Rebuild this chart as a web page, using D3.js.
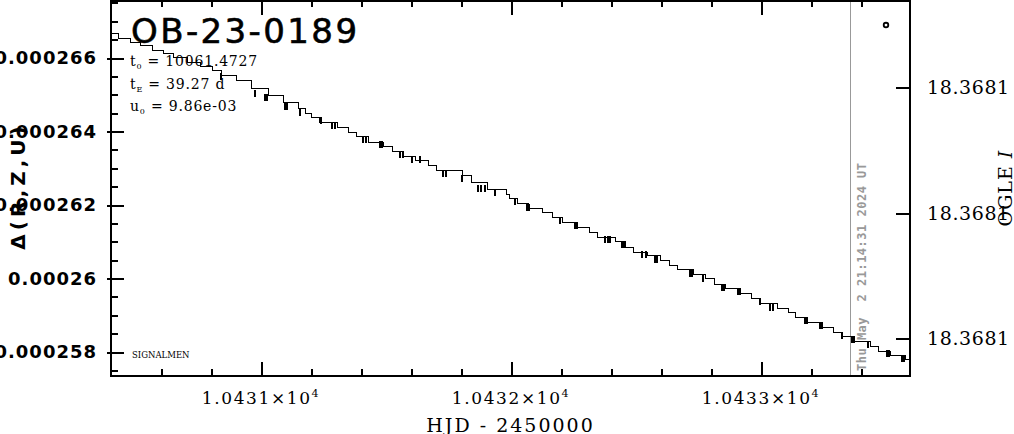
<!DOCTYPE html>
<html>
<head>
<meta charset="utf-8">
<script src="https://cdn.jsdelivr.net/npm/d3@7"></script>
<style>
  html, body { margin: 0; padding: 0; background: #fff; }
  svg { display: block; }
</style>
</head>
<body>
<svg id="chart" width="1014" height="434"></svg>
<script>
// ---------------- data ----------------
const title = "OB-23-0189";
const params = [
  { sym: "t", sub: "0", text: " = 10061.4727" },
  { sym: "t", sub: "E", text: " = 39.27 d" },
  { sym: "u", sub: "0", text: " = 9.86e-03" }
];
const xLabel = "HJD - 2450000";
const yLabel = "Δ(R,Z,U)";
const yRightLabel = "OGLE ";
const yRightLabelItalic = "I";
const dateText = "Thu May  2 21:14:31 2024 UT";
const dateHjd = 10433.357;
const footText = "SIGNALMEN";

const xDomain = [10430.4, 10433.596];
const yDomain = [0.00025735, 0.00026758];
const yRightDomain = [18.368046, 18.368106];

const xMajorTicks = [10431, 10432, 10433];
const xTickMantissa = ["1.0431", "1.0432", "1.0433"];
const xTickExponent = "4";
const yMajorTicks = [0.000258, 0.00026, 0.000262, 0.000264, 0.000266];
const yTickLabels = ["0.000258", "0.00026", "0.000262", "0.000264", "0.000266"];
const yRightTicks = [18.36806, 18.36808, 18.3681];
const yRightTickLabels = ["18.3681", "18.3681", "18.3681"];

// model light curve (stepped)
const stepHjd = [
  10430.400, 10430.428, 10430.476, 10430.516, 10430.564, 10430.608, 10430.648, 10430.704,
  10430.756, 10430.804, 10430.840, 10430.900, 10430.960, 10431.028, 10431.088, 10431.148,
  10431.176, 10431.200, 10431.232, 10431.304, 10431.348, 10431.380, 10431.428, 10431.488,
  10431.524, 10431.564, 10431.616, 10431.668, 10431.700, 10431.804, 10431.840, 10431.904,
  10431.980, 10431.992, 10432.024, 10432.068, 10432.124, 10432.164, 10432.204, 10432.264,
  10432.312, 10432.344, 10432.416, 10432.456, 10432.488, 10432.544, 10432.596, 10432.632,
  10432.664, 10432.728, 10432.776, 10432.812, 10432.856, 10432.916, 10432.960, 10432.996,
  10433.064, 10433.108, 10433.136, 10433.180, 10433.244, 10433.288, 10433.324, 10433.364,
  10433.436, 10433.468, 10433.516, 10433.576, 10433.596
];
const stepDelta = [
  2.66680e-4, 2.66544e-4, 2.66435e-4, 2.66354e-4, 2.66218e-4, 2.66136e-4, 2.66027e-4, 2.65891e-4,
  2.65782e-4, 2.65673e-4, 2.65537e-4, 2.65401e-4, 2.65184e-4, 2.64993e-4, 2.64803e-4, 2.64639e-4,
  2.64503e-4, 2.64395e-4, 2.64258e-4, 2.64122e-4, 2.63986e-4, 2.63878e-4, 2.63714e-4, 2.63605e-4,
  2.63469e-4, 2.63333e-4, 2.63224e-4, 2.63088e-4, 2.62952e-4, 2.62816e-4, 2.62626e-4, 2.62435e-4,
  2.62299e-4, 2.62190e-4, 2.62054e-4, 2.61918e-4, 2.61810e-4, 2.61673e-4, 2.61537e-4, 2.61401e-4,
  2.61265e-4, 2.61129e-4, 2.61020e-4, 2.60857e-4, 2.60721e-4, 2.60639e-4, 2.60503e-4, 2.60367e-4,
  2.60259e-4, 2.60122e-4, 2.60014e-4, 2.59850e-4, 2.59741e-4, 2.59605e-4, 2.59469e-4, 2.59333e-4,
  2.59197e-4, 2.59088e-4, 2.58952e-4, 2.58816e-4, 2.58680e-4, 2.58544e-4, 2.58435e-4, 2.58299e-4,
  2.58163e-4, 2.58027e-4, 2.57918e-4, 2.57810e-4, 2.57810e-4
];

// observations (short vertical marks)
const obsHjd = [
  10430.840, 10430.976, 10431.016, 10431.024, 10431.096, 10431.104, 10431.156, 10431.240,
  10431.284, 10431.296, 10431.408, 10431.420, 10431.476, 10431.484, 10431.556, 10431.568,
  10431.604, 10431.636, 10431.728, 10431.740, 10431.804, 10431.868, 10431.880, 10431.896,
  10431.936, 10432.016, 10432.064, 10432.072, 10432.196, 10432.256, 10432.264, 10432.376,
  10432.388, 10432.396, 10432.444, 10432.452, 10432.524, 10432.540, 10432.576, 10432.584,
  10432.716, 10432.724, 10432.768, 10432.844, 10432.852, 10432.908, 10432.916, 10432.996,
  10433.036, 10433.048, 10433.176, 10433.184, 10433.236, 10433.244, 10433.324, 10433.364,
  10433.372, 10433.428, 10433.504, 10433.512, 10433.564, 10433.572
];
const obsDelta = [
  2.65537e-4, 2.65075e-4, 2.64966e-4, 2.64966e-4, 2.64721e-4, 2.64721e-4, 2.64558e-4, 2.64340e-4,
  2.64204e-4, 2.64204e-4, 2.63823e-4, 2.63823e-4, 2.63687e-4, 2.63687e-4, 2.63415e-4, 2.63415e-4,
  2.63279e-4, 2.63279e-4, 2.62898e-4, 2.62898e-4, 2.62762e-4, 2.62490e-4, 2.62490e-4, 2.62490e-4,
  2.62381e-4, 2.62136e-4, 2.61973e-4, 2.61973e-4, 2.61619e-4, 2.61483e-4, 2.61483e-4, 2.61102e-4,
  2.61102e-4, 2.61102e-4, 2.60966e-4, 2.60966e-4, 2.60694e-4, 2.60694e-4, 2.60558e-4, 2.60558e-4,
  2.60177e-4, 2.60177e-4, 2.60041e-4, 2.59796e-4, 2.59796e-4, 2.59687e-4, 2.59687e-4, 2.59415e-4,
  2.59252e-4, 2.59252e-4, 2.58898e-4, 2.58898e-4, 2.58762e-4, 2.58762e-4, 2.58490e-4, 2.58381e-4,
  2.58381e-4, 2.58245e-4, 2.58000e-4, 2.58000e-4, 2.57864e-4, 2.57864e-4
];

// OGLE point (right axis)
const ogleHjd = [10433.5];
const ogleMag = [18.36805];

// ---------------- drawing ----------------
const svg = d3.select("#chart");
const L = 111, R = 910, T = 0, B = 376;

const x = d3.scaleLinear().domain(xDomain).range([L, R]);
const y = d3.scaleLinear().domain(yDomain).range([B, T]);
const yR = d3.scaleLinear().domain(yRightDomain).range([T, B]);

svg.append("rect").attr("width", 1014).attr("height", 434).attr("fill", "#fff");

svg.append("clipPath").attr("id", "clip")
  .append("rect").attr("x", L).attr("y", T).attr("width", R - L).attr("height", B - T);

const plot = svg.append("g").attr("clip-path", "url(#clip)");

// date line
plot.append("line")
  .attr("x1", Math.round(x(dateHjd)) + 0.5).attr("x2", Math.round(x(dateHjd)) + 0.5)
  .attr("y1", T).attr("y2", B)
  .attr("stroke", "#999").attr("stroke-width", 1)
  .attr("shape-rendering", "crispEdges");

// model staircase
const steps = stepHjd.map((h, i) => [h, stepDelta[i]]);
plot.append("path")
  .datum(steps)
  .attr("fill", "none")
  .attr("stroke", "#000")
  .attr("stroke-width", 1.2)
  .attr("shape-rendering", "crispEdges")
  .attr("d", d3.line().x(d => Math.round(x(d[0])) + 0.5).y(d => Math.round(y(d[1])) + 0.5).curve(d3.curveStepAfter));

// observations
plot.append("g").selectAll("line")
  .data(obsHjd.map((h, i) => [h, obsDelta[i]]))
  .join("line")
  .attr("x1", d => Math.round(x(d[0]))).attr("x2", d => Math.round(x(d[0])))
  .attr("y1", d => Math.round(y(d[1])) - 2).attr("y2", d => Math.round(y(d[1])) + 5)
  .attr("stroke", "#000").attr("stroke-width", 2)
  .attr("shape-rendering", "crispEdges");

// OGLE point
plot.append("g").selectAll("circle")
  .data(ogleHjd.map((h, i) => [h, ogleMag[i]]))
  .join("circle")
  .attr("cx", d => x(d[0])).attr("cy", d => yR(d[1]))
  .attr("r", 2.3).attr("fill", "none").attr("stroke", "#000").attr("stroke-width", 1.8);

// ---------- axes ----------
const xMinor = d3.range(10430.6, 10433.5, 0.2).filter(v => !xMajorTicks.some(m => Math.abs(m - v) < 1e-6));
const yMinor = d3.range(0.0002575, 0.0002676, 0.0000005).filter(v => !yMajorTicks.some(m => Math.abs(m - v) < 1e-10));

function styleAxis(g) {
  g.select(".domain").remove();
  g.selectAll(".tick line").attr("stroke", "#000").attr("stroke-width", 2)
    .attr("shape-rendering", "crispEdges");
}

// bottom major
svg.append("g").attr("transform", `translate(0,${B})`)
  .call(d3.axisBottom(x).tickValues(xMajorTicks).tickSize(-14).tickFormat(""))
  .call(styleAxis);
// bottom minor
svg.append("g").attr("transform", `translate(0,${B})`)
  .call(d3.axisBottom(x).tickValues(xMinor).tickSize(-7).tickFormat(""))
  .call(styleAxis);
// top major / minor
svg.append("g").attr("transform", `translate(0,${T})`)
  .call(d3.axisTop(x).tickValues(xMajorTicks).tickSize(-15).tickFormat(""))
  .call(styleAxis);
svg.append("g").attr("transform", `translate(0,${T})`)
  .call(d3.axisTop(x).tickValues(xMinor).tickSize(-7).tickFormat(""))
  .call(styleAxis);

// left major with labels
const leftAx = svg.append("g").attr("transform", `translate(${L},0)`)
  .call(d3.axisLeft(y).tickValues(yMajorTicks).tickSizeInner(-13).tickSizeOuter(0).tickPadding(14)
    .tickFormat((d, i) => yTickLabels[i]))
  .call(styleAxis);
leftAx.selectAll(".tick text")
  .attr("font-family", "'DejaVu Sans', sans-serif")
  .attr("font-weight", "bold")
  .attr("font-size", 18)
  .attr("letter-spacing", 1)
  .attr("fill", "#000");
// outward stubs of left major ticks
svg.append("g").attr("transform", `translate(${L},0)`)
  .call(d3.axisLeft(y).tickValues(yMajorTicks).tickSize(4).tickFormat(""))
  .call(styleAxis);
// left minor
svg.append("g").attr("transform", `translate(${L},0)`)
  .call(d3.axisLeft(y).tickValues(yMinor).tickSize(-7).tickFormat(""))
  .call(styleAxis);

// right axis
const rightAx = svg.append("g").attr("transform", `translate(${R},0)`)
  .call(d3.axisRight(yR).tickValues(yRightTicks).tickSizeInner(-14).tickSizeOuter(0).tickPadding(17)
    .tickFormat((d, i) => yRightTickLabels[i]))
  .call(styleAxis);
rightAx.selectAll(".tick text")
  .attr("font-family", "'DejaVu Serif', serif")
  .attr("font-size", 19)
  .attr("letter-spacing", 0.6)
  .attr("fill", "#000");

// bottom tick labels
const xl = svg.append("g");
xMajorTicks.forEach((v, i) => {
  const t = xl.append("text")
    .attr("x", x(v)).attr("y", 404)
    .attr("text-anchor", "middle")
    .attr("font-family", "'DejaVu Serif', serif")
    .attr("font-size", 17)
    .attr("letter-spacing", 1.6)
    .attr("fill", "#000");
  t.append("tspan").text(xTickMantissa[i] + "×10");
  t.append("tspan").attr("dy", -7).attr("font-size", 11).text(xTickExponent);
});

// frame
svg.append("rect")
  .attr("x", L).attr("y", T + 0.5).attr("width", R - L).attr("height", B - T - 0.5)
  .attr("fill", "none").attr("stroke", "#000").attr("stroke-width", 2)
  .attr("shape-rendering", "crispEdges");

// axis titles
svg.append("text")
  .attr("x", (L + R) / 2).attr("y", 432)
  .attr("text-anchor", "middle")
  .attr("font-family", "'DejaVu Serif', serif")
  .attr("font-size", 19)
  .attr("letter-spacing", 2)
  .attr("fill", "#000")
  .text(xLabel);

svg.append("text")
  .attr("transform", `translate(25,186) rotate(-90)`)
  .attr("text-anchor", "middle")
  .attr("font-family", "'DejaVu Sans', sans-serif")
  .attr("font-weight", "bold")
  .attr("font-size", 20)
  .attr("letter-spacing", 4)
  .attr("fill", "#000")
  .text(yLabel);

const rl = svg.append("text")
  .attr("transform", `translate(1012,${(T + B) / 2}) rotate(-90)`)
  .attr("text-anchor", "middle")
  .attr("font-family", "'DejaVu Serif', serif")
  .attr("font-size", 19)
  .attr("letter-spacing", 1)
  .attr("fill", "#000");
rl.append("tspan").text(yRightLabel);
rl.append("tspan").attr("font-style", "italic").text(yRightLabelItalic);

// title
svg.append("text")
  .attr("x", 131).attr("y", 43)
  .attr("font-family", "'DejaVu Sans', sans-serif")
  .attr("font-size", 34)
  .attr("letter-spacing", 2.4)
  .attr("fill", "#000")
  .attr("stroke", "#000")
  .attr("stroke-width", 0.6)
  .text(title);

// parameters
params.forEach((p, i) => {
  const t = svg.append("text")
    .attr("x", 130).attr("y", 66 + i * 22.5)
    .attr("font-family", "'DejaVu Serif', serif")
    .attr("font-size", 14)
    .attr("letter-spacing", 0.8)
    .attr("fill", "#000");
  t.append("tspan").text(p.sym);
  t.append("tspan").attr("dy", 3).attr("font-size", 8).text(p.sub);
  t.append("tspan").attr("dy", -3).text(p.text);
});

// footer tag
svg.append("text")
  .attr("x", 132).attr("y", 358)
  .attr("font-family", "'DejaVu Serif', serif")
  .attr("font-size", 8.5)
  .attr("fill", "#000")
  .text(footText);

// date stamp
svg.append("text")
  .attr("transform", `translate(${x(dateHjd) + 16},371) rotate(-90)`)
  .attr("text-anchor", "start")
  .attr("font-family", "'DejaVu Sans Mono', monospace")
  .attr("font-weight", "bold")
  .attr("font-size", 12)
  .attr("letter-spacing", 0.5)
  .attr("fill", "#999")
  .attr("xml:space", "preserve")
  .text(dateText);
</script>
</body>
</html>
